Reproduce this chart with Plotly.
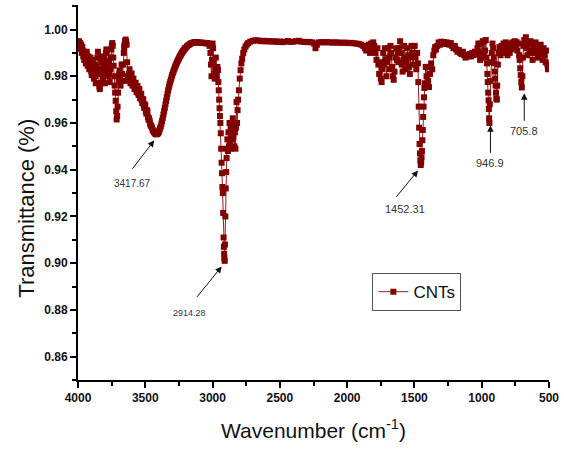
import plotly.graph_objects as go

# ---- data (wavenumber cm^-1, transmittance) ----
seg_high_noise = [
    (3998, 0.9950), (3995, 0.9940), (3992, 0.9948), (3988, 0.9930), (3984, 0.9942),
    (3980, 0.9918), (3976, 0.9935), (3972, 0.9900), (3968, 0.9925), (3965, 0.9910),
    (3961, 0.9885), (3958, 0.9905), (3954, 0.9870), (3950, 0.9895), (3946, 0.9875),
    (3942, 0.9855), (3938, 0.9890), (3935, 0.9905), (3931, 0.9860), (3928, 0.9845),
    (3924, 0.9885), (3920, 0.9870), (3916, 0.9830), (3912, 0.9850), (3908, 0.9880),
    (3905, 0.9865), (3901, 0.9820), (3898, 0.9805), (3894, 0.9850), (3890, 0.9870),
    (3886, 0.9820), (3882, 0.9790), (3878, 0.9830), (3875, 0.9850), (3871, 0.9800),
    (3868, 0.9770), (3864, 0.9810), (3860, 0.9840), (3856, 0.9880), (3852, 0.9905),
    (3848, 0.9830), (3845, 0.9770), (3841, 0.9755), (3838, 0.9745), (3834, 0.9770),
    (3830, 0.9810), (3826, 0.9860), (3822, 0.9885), (3818, 0.9830), (3815, 0.9790),
    (3811, 0.9840), (3808, 0.9875), (3804, 0.9820), (3800, 0.9770), (3796, 0.9850),
    (3792, 0.9900), (3789, 0.9915), (3786, 0.9905), (3782, 0.9840), (3778, 0.9800),
    (3774, 0.9830), (3770, 0.9865), (3767, 0.9810), (3764, 0.9775), (3760, 0.9830),
    (3756, 0.9880), (3752, 0.9915), (3748, 0.9935), (3745, 0.9942), (3742, 0.9930),
    (3738, 0.9880), (3735, 0.9845), (3731, 0.9800), (3728, 0.9760), (3724, 0.9730),
    (3720, 0.9695), (3716, 0.9650), (3713, 0.9615), (3709, 0.9630), (3706, 0.9670),
    (3702, 0.9730), (3698, 0.9780), (3694, 0.9810), (3691, 0.9825), (3687, 0.9790),
    (3684, 0.9760), (3680, 0.9810), (3676, 0.9850), (3672, 0.9810), (3668, 0.9780),
    (3664, 0.9850), (3660, 0.9900), (3657, 0.9925), (3654, 0.9935), (3650, 0.9950),
    (3646, 0.9957), (3642, 0.9948), (3639, 0.9935), (3635, 0.9860), (3632, 0.9800),
    (3628, 0.9785), (3625, 0.9780), (3621, 0.9810), (3617, 0.9830), (3613, 0.9795),
    (3610, 0.9770), (3606, 0.9795), (3602, 0.9812), (3598, 0.9780), (3595, 0.9760),
    (3591, 0.9775), (3588, 0.9790), (3584, 0.9765), (3580, 0.9745), (3576, 0.9760),
    (3572, 0.9772), (3568, 0.9750), (3565, 0.9732), (3561, 0.9745), (3558, 0.9758),
]
seg_oh_band = [
    (3554, 0.9730), (3550, 0.9720), (3547, 0.9740), (3544, 0.9745), (3541, 0.9718),
    (3538, 0.9705), (3534, 0.9722), (3530, 0.9725), (3526, 0.9698), (3522, 0.9685),
    (3518, 0.9702), (3515, 0.9700), (3511, 0.9675), (3508, 0.9665), (3504, 0.9680),
    (3500, 0.9675), (3496, 0.9650), (3492, 0.9640), (3488, 0.9655), (3484, 0.9650),
    (3480, 0.9625), (3476, 0.9615), (3472, 0.9620), (3468, 0.9610), (3464, 0.9598),
    (3460, 0.9590), (3455, 0.9586), (3450, 0.9580), (3445, 0.9570), (3440, 0.9565),
    (3435, 0.9561), (3430, 0.9558), (3425, 0.9554), (3420, 0.9552), (3415, 0.9552),
    (3410, 0.9554), (3405, 0.9557), (3400, 0.9562), (3395, 0.9569), (3390, 0.9577),
    (3385, 0.9586), (3380, 0.9597), (3375, 0.9609), (3370, 0.9622), (3365, 0.9636),
    (3360, 0.9650), (3355, 0.9665), (3350, 0.9680), (3345, 0.9695), (3340, 0.9710),
    (3335, 0.9725), (3330, 0.9740), (3325, 0.9753), (3320, 0.9765), (3315, 0.9775),
    (3310, 0.9785), (3305, 0.9795), (3300, 0.9805), (3295, 0.9814), (3290, 0.9822),
    (3285, 0.9830), (3280, 0.9838), (3275, 0.9845), (3270, 0.9852), (3265, 0.9859),
    (3260, 0.9865), (3255, 0.9871), (3250, 0.9877), (3245, 0.9883), (3240, 0.9888),
    (3235, 0.9893), (3230, 0.9898), (3225, 0.9903), (3220, 0.9907), (3215, 0.9911),
    (3210, 0.9915), (3205, 0.9919), (3200, 0.9922), (3190, 0.9928), (3180, 0.9933),
    (3170, 0.9937), (3160, 0.9941), (3150, 0.9943), (3140, 0.9945), (3130, 0.9946),
    (3120, 0.9946), (3110, 0.9944), (3100, 0.9945), (3090, 0.9943), (3080, 0.9944),
    (3070, 0.9942), (3060, 0.9943), (3050, 0.9941), (3040, 0.9942), (3030, 0.9940),
]
seg_ch_band = [
    (3022, 0.9930), (3016, 0.9900), (3012, 0.9850), (3008, 0.9800), (3004, 0.9870),
    (3000, 0.9940), (2996, 0.9920), (2992, 0.9860), (2988, 0.9810), (2984, 0.9790),
    (2980, 0.9830), (2976, 0.9880), (2972, 0.9830), (2968, 0.9800), (2964, 0.9840),
    (2960, 0.9826), (2957, 0.9775), (2954, 0.9740), (2951, 0.9700), (2948, 0.9663),
    (2945, 0.9630), (2942, 0.9600), (2939, 0.9556), (2936, 0.9490), (2933, 0.9430),
    (2930, 0.9385), (2927, 0.9326), (2924, 0.9300), (2921, 0.9215), (2918, 0.9110),
    (2916, 0.9070), (2914, 0.9040), (2912, 0.9020), (2910, 0.9010), (2908, 0.9080),
    (2905, 0.9200), (2902, 0.9320), (2899, 0.9390), (2896, 0.9450), (2893, 0.9490),
    (2890, 0.9530), (2886, 0.9480), (2882, 0.9560), (2878, 0.9500), (2874, 0.9600),
    (2870, 0.9520), (2866, 0.9580), (2862, 0.9490), (2858, 0.9570), (2854, 0.9530),
    (2850, 0.9620), (2846, 0.9540), (2842, 0.9600), (2838, 0.9500), (2834, 0.9560),
    (2830, 0.9490), (2826, 0.9580), (2822, 0.9690), (2818, 0.9600), (2814, 0.9655),
    (2810, 0.9700), (2804, 0.9740), (2798, 0.9790), (2792, 0.9826), (2786, 0.9855),
    (2780, 0.9875), (2772, 0.9900), (2764, 0.9915), (2755, 0.9927), (2745, 0.9936),
    (2735, 0.9942), (2720, 0.9948), (2700, 0.9952), (2680, 0.9954),
]
seg_plateau = [
    (2660, 0.9953), (2640, 0.9950), (2620, 0.9952), (2600, 0.9949), (2580, 0.9951),
    (2560, 0.9948), (2540, 0.9950), (2520, 0.9947), (2500, 0.9949), (2480, 0.9946),
    (2460, 0.9948), (2440, 0.9951), (2420, 0.9947), (2400, 0.9948), (2380, 0.9950),
    (2360, 0.9952), (2340, 0.9948), (2320, 0.9947), (2300, 0.9946), (2280, 0.9947),
    (2260, 0.9945), (2245, 0.9940), (2235, 0.9920), (2225, 0.9935), (2210, 0.9945),
    (2190, 0.9946), (2170, 0.9945), (2150, 0.9946), (2130, 0.9945), (2110, 0.9944),
    (2090, 0.9945), (2070, 0.9944), (2050, 0.9944), (2030, 0.9943), (2010, 0.9944),
    (1990, 0.9942), (1970, 0.9943), (1950, 0.9941), (1930, 0.9940), (1910, 0.9938),
    (1895, 0.9935), (1880, 0.9930), (1868, 0.9920), (1858, 0.9910), (1850, 0.9925),
]
seg_fingerprint_a = [
    (1840, 0.9935), (1830, 0.9900), (1822, 0.9940), (1814, 0.9920), (1806, 0.9945),
    (1798, 0.9930), (1790, 0.9900), (1782, 0.9870), (1775, 0.9920), (1768, 0.9850),
    (1762, 0.9810), (1756, 0.9860), (1750, 0.9790), (1744, 0.9775), (1738, 0.9830),
    (1732, 0.9900), (1726, 0.9850), (1720, 0.9920), (1714, 0.9870), (1708, 0.9800),
    (1702, 0.9860), (1696, 0.9920), (1690, 0.9880), (1684, 0.9830), (1678, 0.9930),
    (1672, 0.9900), (1666, 0.9840), (1660, 0.9800), (1654, 0.9785), (1648, 0.9820),
    (1642, 0.9880), (1636, 0.9920), (1630, 0.9870), (1624, 0.9900), (1618, 0.9860),
    (1612, 0.9920), (1606, 0.9950), (1600, 0.9900), (1594, 0.9850), (1588, 0.9820),
    (1582, 0.9870), (1576, 0.9930), (1570, 0.9880), (1564, 0.9830), (1558, 0.9860),
    (1552, 0.9920), (1546, 0.9890), (1540, 0.9840), (1534, 0.9810), (1528, 0.9880),
    (1522, 0.9930), (1516, 0.9900), (1510, 0.9850), (1504, 0.9900), (1498, 0.9930),
    (1492, 0.9880), (1486, 0.9830), (1480, 0.9900), (1474, 0.9855), (1471, 0.9775),
    (1468, 0.9670), (1465, 0.9580), (1462, 0.9510), (1459, 0.9470), (1456, 0.9440),
    (1453, 0.9420), (1450, 0.9430), (1447, 0.9453), (1444, 0.9480), (1441, 0.9526),
    (1438, 0.9570), (1435, 0.9626), (1432, 0.9670), (1429, 0.9710), (1426, 0.9750),
    (1422, 0.9770), (1416, 0.9840), (1410, 0.9800), (1406, 0.9840), (1398, 0.9780),
    (1392, 0.9754), (1384, 0.9810), (1376, 0.9855), (1368, 0.9830), (1360, 0.9890),
    (1352, 0.9910), (1346, 0.9925), (1340, 0.9915),
]
seg_fingerprint_b = [
    (1330, 0.9930), (1320, 0.9945), (1310, 0.9935), (1300, 0.9948), (1290, 0.9940),
    (1280, 0.9946), (1270, 0.9938), (1260, 0.9945), (1250, 0.9940), (1240, 0.9935),
    (1230, 0.9942), (1220, 0.9930), (1210, 0.9920), (1200, 0.9930), (1190, 0.9915),
    (1180, 0.9905), (1170, 0.9912), (1160, 0.9900), (1150, 0.9895), (1140, 0.9905),
    (1130, 0.9890), (1120, 0.9880), (1110, 0.9890), (1100, 0.9885), (1090, 0.9895),
    (1080, 0.9885), (1070, 0.9900), (1060, 0.9890), (1050, 0.9905), (1040, 0.9895),
    (1032, 0.9920), (1025, 0.9940), (1018, 0.9900), (1012, 0.9870), (1005, 0.9940),
    (998, 0.9880), (992, 0.9950), (986, 0.9900), (980, 0.9950), (975, 0.9910),
    (970, 0.9955), (965, 0.9880), (961, 0.9855), (958, 0.9810), (955, 0.9775),
    (952, 0.9730), (949, 0.9697), (947, 0.9660), (945, 0.9620), (943, 0.9600),
    (940, 0.9680), (935, 0.9780), (930, 0.9860), (925, 0.9900), (920, 0.9940),
    (915, 0.9920), (910, 0.9880), (906, 0.9855), (903, 0.9820), (900, 0.9790),
    (897, 0.9760), (894, 0.9730), (891, 0.9705), (888, 0.9700), (885, 0.9760),
    (880, 0.9850), (875, 0.9900), (868, 0.9925), (860, 0.9890), (852, 0.9930),
    (845, 0.9900), (838, 0.9940), (830, 0.9910), (822, 0.9945), (815, 0.9920),
    (808, 0.9890), (800, 0.9930), (792, 0.9900), (785, 0.9940), (778, 0.9915),
    (770, 0.9945), (762, 0.9930), (755, 0.9950), (748, 0.9925), (742, 0.9946),
    (735, 0.9910), (728, 0.9940), (722, 0.9890), (718, 0.9870), (714, 0.9834),
    (710, 0.9805), (706, 0.9775), (702, 0.9752), (698, 0.9800), (694, 0.9880),
    (690, 0.9930), (684, 0.9955), (678, 0.9940), (672, 0.9967), (666, 0.9920),
    (660, 0.9890), (652, 0.9940), (645, 0.9900), (638, 0.9950), (630, 0.9910),
    (622, 0.9870), (615, 0.9930), (608, 0.9900), (600, 0.9945), (592, 0.9910),
    (585, 0.9880), (578, 0.9925), (570, 0.9890), (562, 0.9935), (555, 0.9900),
    (548, 0.9870), (540, 0.9920), (532, 0.9890), (525, 0.9860), (518, 0.9910),
    (512, 0.9850), (508, 0.9830),
]

segments = [seg_high_noise, seg_oh_band, seg_ch_band, seg_plateau,
            seg_fingerprint_a, seg_fingerprint_b]
wavenumber = [p[0] for s in segments for p in s]
transmittance = [p[1] for s in segments for p in s]

# peak annotations (slanted arrows: separate label; vertical arrows: label at arrow tail)
slanted_labels = ["3417.67", "2914.28", "1452.31"]
slanted_tip_x = [3433, 2932, 1473]
slanted_tip_y = [0.9526, 0.8986, 0.9397]
slanted_label_x = [3595, 3175, 1569]
slanted_label_y = [0.9342, 0.8786, 0.9231]
slanted_offsets = [(-23, 30), (-26, 32), (-23, 28)]
slanted_sizes = [10, 9, 11]

vertical_labels = ["946.9", "705.8"]
vertical_tip_x = [935, 684]
vertical_tip_y = [0.9590, 0.9727]

x_ticks = [4000, 3500, 3000, 2500, 2000, 1500, 1000, 500]
y_ticks = [0.86, 0.88, 0.90, 0.92, 0.94, 0.96, 0.98, 1.00]

FONT = "Liberation Sans, Arial, sans-serif"
RED = "#800000"

fig = go.Figure()
fig.add_trace(go.Scatter(
    x=wavenumber, y=transmittance, mode="lines+markers", name="CNTs",
    line=dict(color="#8b2020", width=1),
    marker=dict(symbol="square", size=6, color=RED, line=dict(width=0)),
))

annotations = []
for lab, tx, ty, lx, ly, (ax, ay), fs in zip(slanted_labels, slanted_tip_x, slanted_tip_y,
                                              slanted_label_x, slanted_label_y,
                                              slanted_offsets, slanted_sizes):
    annotations.append(dict(x=tx, y=ty, xref="x", yref="y", text="", showarrow=True,
                            ax=ax, ay=ay, arrowhead=2, arrowsize=1.3, arrowwidth=1,
                            arrowcolor="#111"))
    annotations.append(dict(x=lx, y=ly, xref="x", yref="y", text=lab, showarrow=False,
                            font=dict(family=FONT, size=fs, color="#333")))
for lab, tx, ty in zip(vertical_labels, vertical_tip_x, vertical_tip_y):
    annotations.append(dict(x=tx, y=ty, xref="x", yref="y", text=lab, showarrow=True,
                            ax=0, ay=38, arrowhead=2, arrowsize=1.3, arrowwidth=1,
                            arrowcolor="#111", borderpad=4,
                            font=dict(family=FONT, size=11, color="#333")))

annotations.append(dict(x=0.5, y=-0.131, xref="paper", yref="paper",
                        text="Wavenumber (cm<sup>-1</sup>)", showarrow=False,
                        xanchor="center", yanchor="middle",
                        font=dict(family=FONT, size=21, color="#111")))
annotations.append(dict(x=-0.1095, y=0.458, xref="paper", yref="paper",
                        text="Transmittance (%)", showarrow=False, textangle=-90,
                        xanchor="center", yanchor="middle",
                        font=dict(family=FONT, size=22, color="#111")))

fig.update_layout(
    width=564, height=449,
    margin=dict(l=78, r=11, t=5, b=69),
    paper_bgcolor="white", plot_bgcolor="white",
    font=dict(family=FONT, color="#111"),
    showlegend=True,
    legend=dict(x=0.625, y=0.285, xanchor="left", yanchor="top",
                bordercolor="#555", borderwidth=1, bgcolor="white",
                font=dict(family=FONT, size=17, color="#111")),
    annotations=annotations,
)
fig.update_xaxes(
    range=[4000, 500], tickmode="array", tickvals=x_ticks,
    ticktext=[str(v) for v in x_ticks],
    showgrid=False, zeroline=False, showline=True, linecolor="black", linewidth=2,
    ticks="outside", ticklen=6, tickwidth=2, tickcolor="black",
    tickfont=dict(family=FONT, size=12, color="#111", weight="bold"),
    minor=dict(ticks="outside", ticklen=4, tickwidth=2, tickcolor="black",
               tickmode="linear", tick0=250, dtick=500, showgrid=False),
)
fig.update_yaxes(
    range=[0.85, 1.0105], tickmode="array", tickvals=y_ticks,
    ticktext=[f"{v:.2f}" for v in y_ticks],
    showgrid=False, zeroline=False, showline=True, linecolor="black", linewidth=2,
    ticks="outside", ticklen=6, tickwidth=2, tickcolor="black",
    tickfont=dict(family=FONT, size=12, color="#111", weight="bold"),
    minor=dict(ticks="outside", ticklen=4, tickwidth=2, tickcolor="black",
               tickmode="linear", tick0=0.87, dtick=0.02, showgrid=False),
)

fig.write_html("out.html")
